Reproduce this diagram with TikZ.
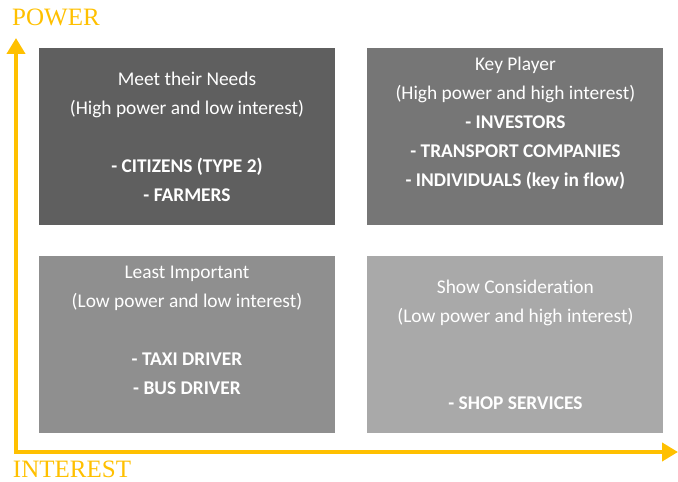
\documentclass[tikz,border=0pt]{standalone}
\usepackage{fontspec}
\setmainfont[Ligatures=NoCommon]{Carlito}
\newfontfamily\axisfont{Liberation Serif}
\usetikzlibrary{arrows.meta,positioning}
\definecolor{axisyellow}{HTML}{FFC000}
\definecolor{quadA}{HTML}{5F5F5F}
\definecolor{quadB}{HTML}{767676}
\definecolor{quadC}{HTML}{8F8F8F}
\definecolor{quadD}{HTML}{A9A9A9}

\begin{document}
\begin{tikzpicture}[x=1pt,y=1pt,>={Triangle[length=16pt,width=18pt]},node distance=31pt and 32pt]
  \tikzstyle{quad}=[minimum width=296pt,minimum height=177pt,inner sep=0pt,align=center,text=white,font=\fontsize{19.4}{29}\selectfont]
  \tikzstyle{axis}=[line width=4pt,draw=axisyellow,line join=miter]
  \tikzstyle{axislabel}=[text=axisyellow,inner sep=0pt,font=\axisfont\fontsize{25}{25}\selectfont]
  \useasboundingbox (0,0) rectangle (678,482);
  % the four quadrants
  \node[quad,fill=quadA] (needs) at (187,345.5) {Meet their Needs\\(High power and low interest)\\[29pt]\textbf{- CITIZENS (TYPE 2)}\\\textbf{- FARMERS}};
  \node[quad,fill=quadB,right=of needs] (key) {Key Player\\(High power and high interest)\\\textbf{- INVESTORS}\\\textbf{- TRANSPORT COMPANIES}\\\textbf{- INDIVIDUALS (key in flow)}\\{}};
  \node[quad,fill=quadC,below=of needs] (least) {Least Important\\(Low power and low interest)\\[29pt]\textbf{- TAXI DRIVER}\\\textbf{- BUS DRIVER}\\{}};
  \node[quad,fill=quadD,below=of key] (show) {Show Consideration\\(Low power and high interest)\\[58pt]\textbf{- SHOP SERVICES}};
  % axes
  \coordinate (origin) at (16,30);
  \coordinate (ptop) at (16,444);
  \coordinate (pright) at (678,30);
  \draw[axis,<->] (ptop) -- (origin) -- (pright);
  \node[axislabel] (power) at (56,465) {POWER};
  \node[axislabel] (interest) at (72,12.5) {INTEREST};
\end{tikzpicture}
\end{document}
